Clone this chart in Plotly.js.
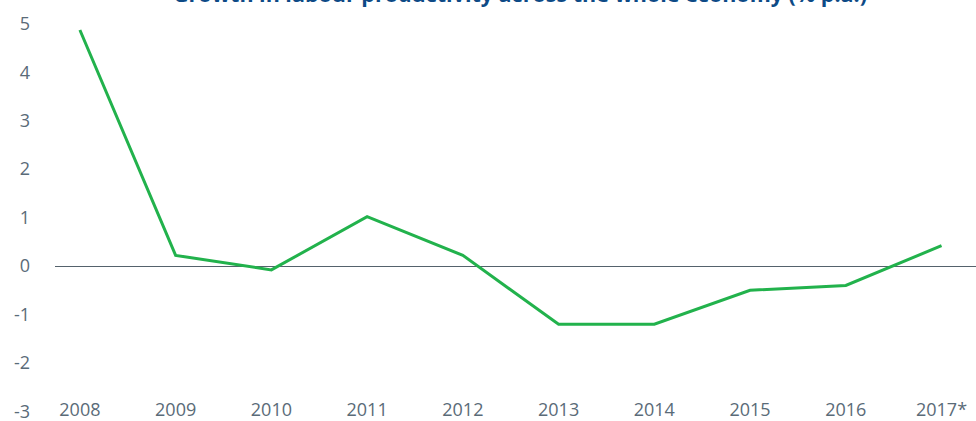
<!DOCTYPE html>
<html>
<head>
<meta charset="utf-8">
<script src="https://cdn.plot.ly/plotly-3.0.1.min.js"></script>
<style>html,body{margin:0;padding:0;background:#fff;overflow:hidden;}#chart{width:976px;height:461px;}</style>
</head>
<body>
<div id="chart"></div>
<script>
const years = ['2008','2009','2010','2011','2012','2013','2014','2015','2016','2017*'];
const growth = [4.87, 0.22, -0.08, 1.02, 0.22, -1.2, -1.2, -0.5, -0.4, 0.42];
const yTicks = [-3, -2, -1, 0, 1, 2, 3, 4, 5];
const titleText = 'Growth in labour productivity across the whole economy (% p.a.)';

const trace = {
  x: years,
  y: growth,
  type: 'scatter',
  mode: 'lines',
  line: {color: '#22b24c', width: 3},
  hoverinfo: 'x+y'
};

const layout = {
  width: 976,
  height: 461,
  margin: {l: 55, r: 0, t: 15, b: 20},
  paper_bgcolor: '#ffffff',
  plot_bgcolor: '#ffffff',
  showlegend: false,
  annotations: [{
    text: '<b>' + titleText + '</b>',
    font: {family: 'Open Sans', size: 21.5, color: '#0d4a86'},
    xref: 'paper', yref: 'paper',
    x: 0.505, xanchor: 'center',
    y: 1 + 5.5/426, yanchor: 'bottom',
    showarrow: false, borderpad: 0
  }],
  xaxis: {
    type: 'category',
    range: [-0.26, 9.36],
    showgrid: false,
    zeroline: false,
    showline: false,
    ticks: '',
    ticklabelstandoff: -44,
    tickfont: {family: 'Open Sans', size: 18, color: '#5a6b78'}
  },
  yaxis: {
    range: [-3.61, 5.18],
    tickvals: yTicks,
    ticktext: yTicks.map(String),
    showgrid: false,
    zeroline: true,
    zerolinecolor: '#55626c',
    zerolinewidth: 1,
    showline: false,
    ticks: '',
    ticklabelstandoff: 24,
    tickfont: {family: 'Open Sans', size: 18, color: '#5a6b78'}
  }
};

Plotly.newPlot('chart', [trace], layout, {displayModeBar: false, staticPlot: true});
</script>
</body>
</html>
